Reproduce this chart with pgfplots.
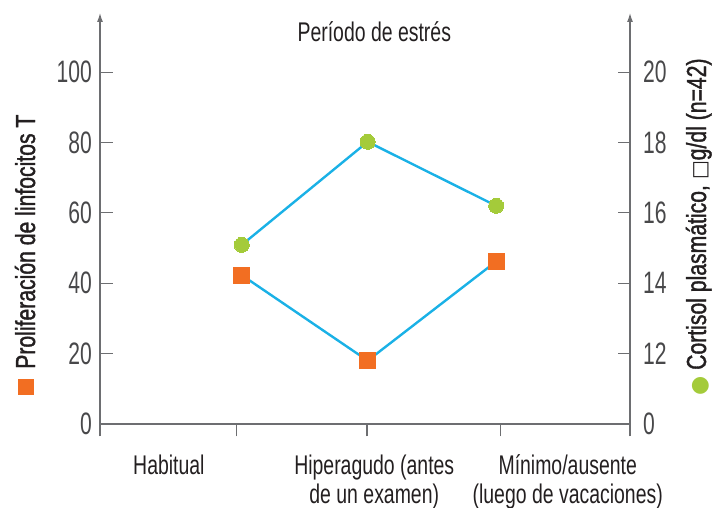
\documentclass[border=0pt]{standalone}
\usepackage{fontspec}
\setmainfont[FakeStretch=0.77,FakeBold=1.3]{Liberation Sans}
\newfontfamily\lightfont[FakeStretch=0.72]{Liberation Sans}
\newfontfamily\tickfont[FakeStretch=0.68]{Liberation Sans}
\newfontfamily\symfont{DejaVu Sans}
\usepackage{pgfplots}
\pgfplotsset{compat=1.18}
\usetikzlibrary{arrows.meta}
\definecolor{axisgray}{HTML}{6D6E71}
\definecolor{ticktext}{HTML}{48484A}
\definecolor{labeltext}{HTML}{231F20}
\definecolor{linecyan}{HTML}{1AB1E6}
\definecolor{sqorange}{HTML}{F26E22}
\definecolor{dotgreen}{HTML}{A4CB3A}
\begin{document}
\begin{tikzpicture}
\path[use as bounding box] (-100pt,-84pt) rectangle (615pt,424pt);
\begin{axis}[
  at={(0pt,0pt)}, anchor=south west,
  scale only axis, width=530pt, height=411pt,
  xmin=0, xmax=4, ymin=0, ymax=116.8,
  axis x line*=bottom, axis y line*=left,
  x axis line style={-, draw=axisgray, line width=1.2pt},
  y axis line style={-{Latex[length=9pt,width=6pt]}, draw=axisgray, line width=1.2pt},
  xtick={0,1.03,2.015,3.02,4}, xticklabels={},
  xtick align=outside, ytick align=inside,
  major tick length=12.5pt,
  tick style={draw=axisgray, line width=1.2pt},
  ytick={0,20,40,60,80,100},
  /pgf/number format/assume math mode=true,
  yticklabel style={font=\tickfont\fontsize{31}{31}\selectfont, text=ticktext, inner sep=0pt, xshift=-8pt},
  clip=false,
]
\addplot[linecyan, line width=2.4pt, mark=square*, mark size=8pt,
  mark options={solid, fill=sqorange, draw=sqorange, line width=0pt}]
  coordinates {(1.07,42.3) (2.02,18.0) (2.99,46.2)};

\node[anchor=base, font=\lightfont\fontsize{27}{27}\selectfont, text=labeltext, inner sep=0pt]
  at (axis cs:2.07,108.8) {Período de estrés};

\node[anchor=north, align=center, font=\lightfont\fontsize{27}{29}\selectfont, text=labeltext, inner sep=0pt]
  at (axis cs:0.52,-8.6) {\strut Habitual};
\node[anchor=north, align=center, font=\lightfont\fontsize{27}{29}\selectfont, text=labeltext, inner sep=0pt]
  at (axis cs:2.07,-8.6) {\strut Hiperagudo (antes\\de un examen)};
\node[anchor=north, align=center, font=\lightfont\fontsize{27}{29}\selectfont, text=labeltext, inner sep=0pt]
  at (axis cs:3.53,-8.6) {\strut Mínimo/ausente\\(luego de vacaciones)};

\node[rotate=90, anchor=base west, inner sep=0pt, font=\fontsize{27.5}{27.5}\selectfont, text=labeltext]
  at (rel axis cs:-0.1226,0.0706)
  {\textcolor{sqorange}{\rule[1.5pt]{16pt}{16pt}}\hspace{10pt}Proliferación de linfocitos T};
\end{axis}
\begin{axis}[
  at={(0pt,0pt)}, anchor=south west,
  scale only axis, width=530pt, height=411pt,
  xmin=0, xmax=4, ymin=10, ymax=21.68,
  axis x line=none, axis y line*=right,
  y axis line style={-{Latex[length=9pt,width=6pt]}, draw=axisgray, line width=1.2pt},
  ytick align=inside,
  major tick length=12.5pt,
  tick style={draw=axisgray, line width=1.2pt},
  ytick={10,12,14,16,18,20},
  yticklabels={0,12,14,16,18,20},
  /pgf/number format/assume math mode=true,
  yticklabel style={font=\tickfont\fontsize{31}{31}\selectfont, text=ticktext, inner sep=0pt, xshift=13pt},
  clip=false,
]
\addplot[linecyan, line width=2.4pt, mark=*, mark size=7.5pt,
  mark options={solid, fill=dotgreen, draw=dotgreen, line width=0pt}]
  coordinates {(1.07,15.09) (2.02,18.02) (2.99,16.2)};

\node[rotate=90, anchor=base west, inner sep=0pt, font=\fontsize{27.5}{27.5}\selectfont, text=labeltext]
  at (rel axis cs:1.1434,0.07)
  {\textcolor{dotgreen}{\symfont\fontsize{22}{22}\selectfont ●}\hspace{6pt}Cortisol plasmático, {\symfont\fontsize{20}{20}\selectfont □}g/dl (n=42)};
\end{axis}
\end{tikzpicture}
\end{document}
